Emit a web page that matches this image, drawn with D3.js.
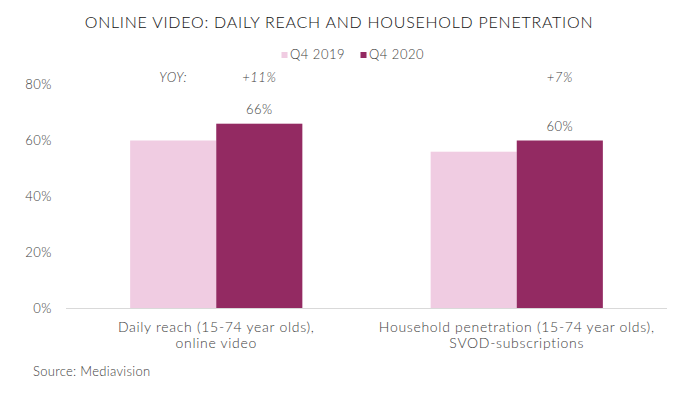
<!DOCTYPE html>
<html>
<head>
<meta charset="utf-8">
<script src="https://cdn.jsdelivr.net/npm/d3@7"></script>
<style>
  html, body { margin: 0; padding: 0; background: #fff; }
  svg text { font-family: Lato, "Open Sans", sans-serif; }
</style>
</head>
<body>
<svg id="chart" width="692" height="396"></svg>
<script>
const title = "ONLINE VIDEO: DAILY REACH AND HOUSEHOLD PENETRATION";
const categories = ["Daily reach", "Household penetration"];
const categoryLines = [
  ["Daily reach (15-74 year olds),", "online video"],
  ["Household penetration (15-74 year olds),", "SVOD-subscriptions"]
];
const seriesNames = ["Q4 2019", "Q4 2020"];
const seriesColors = ["#F0CCE2", "#932A62"];
const valuesQ42019 = [0.60, 0.56];
const valuesQ42020 = [0.66, 0.60];
const yoyLabels = ["+11%", "+7%"];
const yoyPrefix = "YOY:";
const yTicks = [0, 0.2, 0.4, 0.6, 0.8];
const source = "Source: Mediavision";

const seriesValues = [valuesQ42019, valuesQ42020];
const svg = d3.select("#chart");
const textColor = "#404040";
const fw = 300;

const x0 = d3.scaleBand().domain(categories).range([66, 667]).paddingInner(0).paddingOuter(0);
const x1 = d3.scaleBand().domain(seriesNames).range([0, x0.bandwidth()]).paddingInner(0).paddingOuter(0.745);
const y = d3.scaleLinear().domain([0, 0.8]).range([308.5, 84.5]);

// title
svg.append("text").attr("x", 339).attr("y", 28).attr("text-anchor", "middle")
  .attr("font-size", 16).attr("letter-spacing", 0.75).attr("fill", "#111").attr("font-weight", fw).text(title);

// legend
const legendX = [281.5, 360.5];
seriesNames.forEach((s, i) => {
  const g = svg.append("g").attr("transform", `translate(${legendX[i]},52)`);
  g.append("rect").attr("width", 6).attr("height", 6).attr("fill", seriesColors[i]);
  g.append("text").attr("x", 8.5).attr("y", 7).attr("font-size", 13).attr("letter-spacing", 0.5)
    .attr("fill", textColor).attr("font-weight", fw).text(s);
});

// y axis
const yAxis = d3.axisLeft(y).tickValues(yTicks).tickFormat(d3.format(".0%")).tickSize(0).tickPadding(14);
const ya = svg.append("g").attr("transform", "translate(66,0)").call(yAxis);
ya.select(".domain").remove();
ya.selectAll("text").attr("font-size", 13).attr("letter-spacing", 0.5).attr("fill", textColor).attr("font-weight", fw)
  .style("font-family", "Lato, sans-serif");

// bars
categories.forEach((c, ci) => {
  seriesNames.forEach((s, si) => {
    svg.append("rect")
      .attr("x", x0(c) + x1(s))
      .attr("y", y(seriesValues[si][ci]))
      .attr("width", x1.bandwidth())
      .attr("height", y(0) - y(seriesValues[si][ci]))
      .attr("fill", seriesColors[si]);
  });
  // value label on Q4 2020
  svg.append("text")
    .attr("x", x0(c) + x1(seriesNames[1]) + x1.bandwidth() / 2)
    .attr("y", y(valuesQ42020[ci]) - 10)
    .attr("text-anchor", "middle").attr("font-size", 13).attr("letter-spacing", 0.5)
    .attr("fill", textColor).attr("font-weight", fw)
    .text(d3.format(".0%")(valuesQ42020[ci]));
  // yoy label
  svg.append("text")
    .attr("x", x0(c) + x1(seriesNames[1]) + x1.bandwidth() / 2)
    .attr("y", 82)
    .attr("text-anchor", "middle").attr("font-size", 13).attr("letter-spacing", 0.5).attr("fill", textColor)
    .attr("font-style", "italic").attr("font-weight", fw)
    .text(yoyLabels[ci]);
  // category labels
  categoryLines[ci].forEach((line, li) => {
    svg.append("text")
      .attr("x", x0(c) + x0.bandwidth() / 2)
      .attr("y", 332 + li * 16)
      .attr("text-anchor", "middle").attr("font-size", 14).attr("letter-spacing", 0.7)
      .attr("fill", textColor).attr("font-weight", fw)
      .text(line);
  });
});

// YOY prefix
svg.append("text")
  .attr("x", x0(categories[0]) + x1(seriesNames[0]) + x1.bandwidth() / 2)
  .attr("y", 82)
  .attr("text-anchor", "middle").attr("font-size", 13).attr("letter-spacing", 0.5).attr("fill", textColor)
  .attr("font-style", "italic").attr("font-weight", fw)
  .text(yoyPrefix);

// baseline
svg.append("line").attr("x1", 66).attr("x2", 667).attr("y1", y(0)).attr("y2", y(0))
  .attr("stroke", "#d9d9d9").attr("stroke-width", 1);

// source
svg.append("text").attr("x", 33).attr("y", 376).attr("font-size", 13).attr("letter-spacing", 0.3)
  .attr("fill", textColor).attr("font-weight", fw).text(source);
</script>
</body>
</html>
